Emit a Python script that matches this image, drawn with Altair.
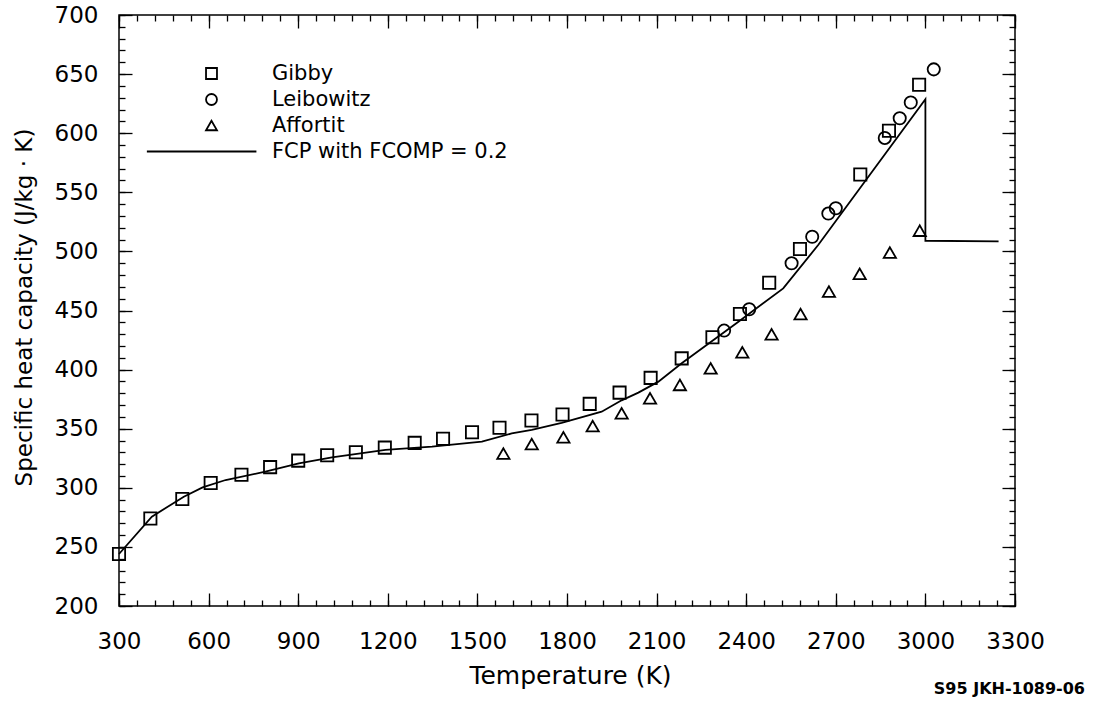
import altair as alt
import pandas as pd

# ---- data ----
gibby_T = [300, 405, 512, 607, 710, 806, 900, 997, 1093, 1190, 1290, 1385, 1482, 1574,
           1681, 1785, 1876, 1976, 2080, 2184, 2287, 2379, 2477, 2580, 2782, 2878, 2979]
gibby_V = [244, 274, 290.5, 304, 311, 317.5, 323, 327.5, 330, 334, 338, 341.5, 347, 350.8,
           357, 362, 371, 380.5, 393, 409.5, 427.3, 447, 473.5, 502, 565, 602, 641]

leib_T = [2326, 2410, 2552, 2621, 2675, 2700, 2864, 2914, 2951, 3028]
leib_V = [433, 451, 490, 512.4, 532, 536.5, 596, 612.6, 626, 654]

aff_T = [1587, 1682, 1788, 1886, 1983, 2078, 2178, 2281, 2387, 2485, 2582, 2677, 2780, 2881, 2981]
aff_V = [329, 337, 342.7, 352.3, 363, 375.7, 387, 401, 414.6, 429.9, 447, 466, 481, 499, 517.5]

fcp_T = [300, 410, 517, 580, 657, 790, 902, 1013, 1192, 1348, 1515, 1615, 1682, 1782,
         1916, 1983, 2039, 2106, 2184, 2374, 2524, 2641, 3000, 3000, 3245]
fcp_V = [244, 275.6, 292.5, 300.4, 306.6, 313.6, 320.7, 325.8, 332, 334.8, 339, 346, 349, 355,
         364.4, 374, 380.5, 389.8, 405.3, 440.5, 468.7, 505.4, 628.7, 509, 508.5]

series_names = ["Gibby", "Leibowitz", "Affortit", "FCP with FCOMP = 0.2"]
series_shapes = ["square", "circle", "triangle-up", "M-11.8,0L8.2,0"]

x_major = [300, 600, 900, 1200, 1500, 1800, 2100, 2400, 2700, 3000, 3300]
x_minor = list(range(300, 3301, 60))
y_major = [200, 250, 300, 350, 400, 450, 500, 550, 600, 650, 700]
y_minor = list(range(200, 701, 10))

note_text = "S95 JKH-1089-06"

# ---- tables ----
pts = pd.DataFrame({
    "T": gibby_T + leib_T + aff_T,
    "V": gibby_V + leib_V + aff_V,
    "series": [series_names[0]] * len(gibby_T) + [series_names[1]] * len(leib_T)
              + [series_names[2]] * len(aff_T),
})
line_df = pd.DataFrame({"T": fcp_T, "V": fcp_V, "i": list(range(len(fcp_T)))})

FONT = "DejaVu Sans"
W, H = 896, 591

xscale = alt.Scale(domain=[300, 3300], nice=False, zero=False)
yscale = alt.Scale(domain=[200, 700], nice=False, zero=False)

main_x_axis = alt.Axis(
    title="Temperature (K)", values=x_major, format="d", ticks=False, tickSize=0,
    domain=False, grid=False, labelFlush=False, labelFont=FONT, labelFontSize=23,
    labelColor="black", labelPadding=24, titleFont=FONT, titleFontSize=25,
    titleFontWeight="normal", titleColor="black", titleX=451, titleY=77,
    titleBaseline="alphabetic", titleAlign="center",
)
main_y_axis = alt.Axis(
    title="Specific heat capacity (J/kg · K)", values=y_major, format="d", ticks=False,
    tickSize=0, domain=False, grid=False, labelFlush=False, labelFont=FONT, labelFontSize=23,
    labelColor="black", labelPadding=21, titleFont=FONT, titleFontSize=23,
    titleFontWeight="normal", titleColor="black", titleX=-95, titleY=292,
    titleBaseline="middle", titleAlign="center", titleAngle=270,
)

legend = alt.Legend(
    orient="none", legendX=82, legendY=48, title=None, labelFont=FONT, labelFontSize=21,
    labelColor="black", labelLimit=0, symbolSize=120, symbolStrokeWidth=1.8,
    symbolStrokeColor="black", symbolFillColor="transparent", labelOffset=50,
    rowPadding=4, padding=0,
)

points = alt.Chart(pts).mark_point(
    filled=False, size=150, strokeWidth=1.8, color="black", opacity=1
).encode(
    x=alt.X("T:Q", scale=xscale, axis=main_x_axis),
    y=alt.Y("V:Q", scale=yscale, axis=main_y_axis),
    shape=alt.Shape("series:N", scale=alt.Scale(domain=series_names, range=series_shapes),
                    legend=legend),
)

line = alt.Chart(line_df).mark_line(color="black", strokeWidth=1.8).encode(
    x=alt.X("T:Q", scale=xscale, axis=None),
    y=alt.Y("V:Q", scale=yscale, axis=None),
    order=alt.Order("i:Q"),
)


def tick_layer(xorient, yorient, xvals, yvals, size):
    common = dict(tickSize=size, offset=-size, labels=False, domain=False, grid=False,
                  title=None, tickColor="black", tickWidth=1.3)
    return alt.Chart(pts).mark_point(opacity=0).encode(
        x=alt.X("T:Q", scale=xscale, axis=alt.Axis(orient=xorient, values=xvals, **common)),
        y=alt.Y("V:Q", scale=yscale, axis=alt.Axis(orient=yorient, values=yvals, **common)),
    )


layers = [
    points,
    line,
    tick_layer("bottom", "left", x_major, y_major, 13),
    tick_layer("top", "right", x_major, y_major, 13),
    tick_layer("bottom", "left", x_minor, y_minor, 6),
    tick_layer("top", "right", x_minor, y_minor, 6),
]

chart = (
    alt.layer(*layers)
    .resolve_axis(x="independent", y="independent")
    .properties(
        width=W, height=H,
        autosize=alt.AutoSizeParams(type="none"),
        padding={"left": 119, "top": 15, "right": 79, "bottom": 95},
        background="white",
        title=alt.TitleParams(
            text=note_text, orient="bottom", anchor="end", frame="group", font=FONT,
            fontSize=16, fontWeight="bold", color="black", dx=70, offset=-7,
        ),
    )
    .configure_view(stroke="black", strokeWidth=1.5)
)

chart.save("out.html", embed_options={"renderer": "svg", "actions": False})
